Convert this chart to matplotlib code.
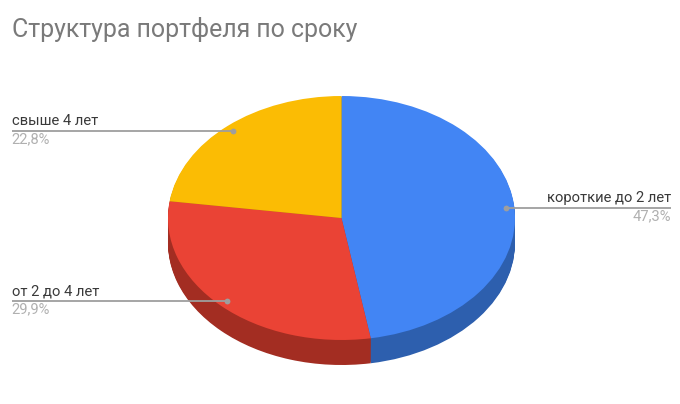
import matplotlib
matplotlib.use("Agg")
import matplotlib.pyplot as plt

plt.rcParams['font.family'] = ['Roboto', 'DejaVu Sans']

title = "Структура портфеля по сроку"
categories = ["короткие до 2 лет", "от 2 до 4 лет", "свыше 4 лет"]
values = [47.3, 29.9, 22.8]
pct_labels = ["47,3%", "29,9%", "22,8%"]
colors = ["#4285f4", "#ea4335", "#fbbc04"]
side_colors = ["#2d5fae", "#a32d22", "#b08403"]

W, H = 680, 404
fig = plt.figure(figsize=(W / 100, H / 100), dpi=100, facecolor="white")

# pie axes: top ellipse spans x 168..515, y 96..340 px
L, R, T, B = 168, 515, 96, 340
ax = fig.add_axes([L / W, 1 - B / H, (R - L) / W, (B - T) / H])
depth = 25 / ((B - T) / 2)
steps = 26
for i in range(steps, 0, -1):
    wedges, _ = ax.pie(values, colors=side_colors, startangle=90, counterclock=False,
                       center=(0, -depth * i / steps), radius=1, wedgeprops=dict(linewidth=0))
    for w in wedges:
        w.set_clip_on(False)
wedges, _ = ax.pie(values, colors=colors, startangle=90, counterclock=False,
                   center=(0, 0), radius=1, wedgeprops=dict(linewidth=0))
for w in wedges:
    w.set_clip_on(False)
ax.set_aspect("auto")
ax.set_xlim(-1, 1)
ax.set_ylim(-1, 1)

# overlay in pixel coordinates
ov = fig.add_axes([0, 0, 1, 1], facecolor="none")
ov.set_xlim(0, W)
ov.set_ylim(H, 0)
ov.axis("off")

ov.text(11.5, 30, title, fontsize=17.9, color="#7a7a7a", va="center", ha="left")

lab_pos = [
    (671, 207.5, 505.5, "right"),
    (11.5, 300.5, 227, "left"),
    (11.5, 130.5, 233, "left"),
]
for (x, y, dot, ha), cat, pct in zip(lab_pos, categories, pct_labels):
    ov.plot([x, dot], [y, y], color="#9e9e9e", lw=1.3, solid_capstyle="butt")
    ov.plot([dot], [y], "o", color="#9e9e9e", ms=4.2, mew=0)
    ov.text(x, y - 2.5, cat, fontsize=10.6, color="#3a3a3a", ha=ha, va="bottom")
    ov.text(x, y + 1.5, pct, fontsize=10.6, color="#b0b0b0", ha=ha, va="top")

fig.savefig("out.png", dpi=100, facecolor="white")
